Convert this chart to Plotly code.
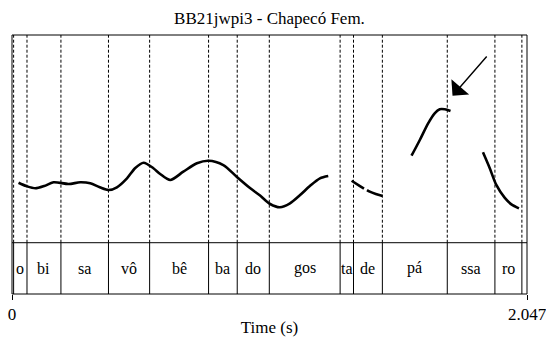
import plotly.graph_objects as go

# ---- data ----
title_text = "BB21jwpi3 - Chapecó Fem."
t_max = 2.047

# pitch contour (time s, F0 Hz); None = unvoiced gap
pitch_t = [0.026, 0.057, 0.093, 0.128, 0.165, 0.225, 0.271, 0.311, 0.349, 0.384,
           0.417, 0.457, 0.490, 0.523, 0.562, 0.589, 0.629, 0.681, 0.735, 0.781,
           0.840, 0.893, 0.946, 0.986, 1.026, 1.065, 1.105, 1.145, 1.184, 1.224, 1.257,
           None,
           1.350, 1.383, 1.399,
           None,
           1.411, 1.422, 1.446, 1.473,
           None,
           1.588, 1.621, 1.654, 1.680, 1.700, 1.720, 1.743,
           None,
           1.872, 1.899, 1.925, 1.958, 1.985, 2.015]
pitch_hz = [172.2, 168.2, 165.5, 168.2, 172.7, 170.7, 172.7, 171.5, 166.7, 163.4,
            166.7, 177.5, 189.9, 196.3, 189.6, 182.7, 175.5, 185.5, 195.6, 198.7,
            193.5, 179.4, 165.8, 156.8, 146.6, 142.6, 147.4, 157.4, 168.2, 177.5, 180.3,
            None,
            174.6, 168.2, 165.2,
            None,
            163.4, 161.4, 158.6, 156.2,
            None,
            204.7, 223.6, 243.7, 255.8, 260.6, 260.6, 258.5,
            None,
            208.8, 189.6, 169.5, 154.2, 146.2, 141.4]

# syllable tier
boundaries = [0.0064, 0.0596, 0.1945, 0.3835, 0.5471, 0.7813, 0.8952, 1.0227,
              1.3042, 1.3574, 1.4721, 1.7301, 1.9195, 2.0267]
syllables = ["o", "bi", "sa", "vô", "bê", "ba", "do", "gos", "ta", "de", "pá", "ssa", "ro"]

# arrow (tail -> head) in data units
arrow_tail = (1.892, 325.9)
arrow_head = (1.751, 276.9)

tick_vals = [0, t_max]
tick_text = ["0", "2.047"]
hz_range = [100, 350]

# ---- layout constants ----
tier_frac = 0.198
FONT = "Liberation Serif"

fig = go.Figure()
fig.add_trace(go.Scatter(
    x=pitch_t, y=pitch_hz, mode="lines",
    line=dict(color="black", width=2.6, shape="spline", smoothing=0.8),
    connectgaps=False, hoverinfo="skip", showlegend=False))

shapes = []
# outer frame
shapes.append(dict(type="rect", xref="paper", yref="paper", x0=0, x1=1, y0=0, y1=1,
                   line=dict(color="black", width=1)))
# tier top line
shapes.append(dict(type="line", xref="paper", yref="paper", x0=0, x1=1,
                   y0=tier_frac, y1=tier_frac, line=dict(color="black", width=1)))
for b in boundaries:
    # dashed in pitch area
    shapes.append(dict(type="line", xref="x", yref="paper", x0=b, x1=b,
                       y0=tier_frac, y1=1, line=dict(color="black", width=1, dash="3px,2px")))
    # solid in tier
    shapes.append(dict(type="line", xref="x", yref="paper", x0=b, x1=b,
                       y0=0, y1=tier_frac, line=dict(color="black", width=1)))

annotations = []
for i, s in enumerate(syllables):
    annotations.append(dict(x=(boundaries[i] + boundaries[i + 1]) / 2, y=tier_frac / 2,
                            xref="x", yref="paper", text=s, showarrow=False,
                            font=dict(family=FONT, size=16, color="black"),
                            xanchor="center", yanchor="middle"))
annotations.append(dict(x=arrow_head[0], y=arrow_head[1], ax=arrow_tail[0], ay=arrow_tail[1],
                        xref="x", yref="y", axref="x", ayref="y", text="",
                        showarrow=True, arrowhead=1, arrowsize=2.8, arrowwidth=1.4,
                        arrowcolor="black"))

fig.update_layout(
    width=546, height=337,
    margin=dict(l=12, r=19, t=35, b=43),
    paper_bgcolor="white", plot_bgcolor="white",
    title=dict(text=title_text, x=0.5, xref="paper", y=1 - 18 / 337, yref="container",
               xanchor="center", yanchor="middle", automargin=False,
               font=dict(family=FONT, size=17, color="black")),
    xaxis=dict(range=[0, t_max], anchor="free", position=0, automargin=False,
               showgrid=False, zeroline=False, showline=False,
               tickmode="array", tickvals=tick_vals, ticktext=tick_text,
               ticklabeloverflow="allow",
               ticks="outside", ticklen=5, tickcolor="black", tickwidth=1,
               tickfont=dict(family=FONT, size=17, color="black"),
               title=dict(text="Time (s)", standoff=2,
                          font=dict(family=FONT, size=17, color="black"))),
    yaxis=dict(range=hz_range, domain=[tier_frac, 1], showgrid=False, zeroline=False,
               automargin=False, showline=False, showticklabels=False, ticks=""),
    shapes=shapes, annotations=annotations,
)

fig.write_html("out.html")
